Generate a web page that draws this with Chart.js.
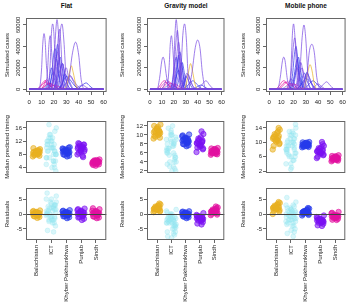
<!DOCTYPE html>
<html>
<head>
<meta charset="utf-8">
<script src="https://cdn.jsdelivr.net/npm/chart.js@4/dist/chart.umd.min.js"></script>
<style>
  html, body { margin: 0; padding: 0; background: #fff; width: 350px; height: 306px; overflow: hidden; }
  body { position: relative; font-family: "Liberation Sans", Arial, sans-serif; }
  canvas { position: absolute; }
  .panel-title { position: absolute; top: 1px; font-size: 6.5px; font-weight: bold; text-align: center; color: #111; line-height: 9px; }
</style>
</head>
<body>
<div class="panel-title" style="left:26px;width:81px">Flat</div>
<div class="panel-title" style="left:147px;width:78px">Gravity model</div>
<div class="panel-title" style="left:266px;width:80px">Mobile phone</div>
<script>
// ============================================
// Data
// ============================================

const provinces = ['Balochistan', 'ICT', 'Khyber Pakhtunkhwa', 'Punjab', 'Sindh']
const weekTicks = [0, 10, 20, 30, 40, 50, 60]
const caseTicks = [0, 20000, 40000, 60000]
const residualTicks = [-5, 0, 5]
const flatTimingTicks = [4, 6, 8, 10, 12, 14, 16]
const gravityTimingTicks = [2, 4, 6, 8, 10, 12]
const mobileTimingTicks = [2, 4, 6, 8, 10, 12, 14]

// epidemic curves: [week, simulated cases] + province index of each district
const flatCurveProv = [3, 3, 3, 3, 3, 3, 3, 0, 2, 2, 3, 2, 3, 2, 3, 4, 4, 4, 2, 3, 1, 4, 2, 3, 2, 2, 3, 2, 4, 4, 3]
const flatCurves = [
  [[0, 0], [8, 0], [10, 18000], [11, 42000], [12, 52000], [13, 44000], [14, 22000], [16, 3000], [18, 0], [60, 0]],
  [[0, 0], [15, 0], [17, 24000], [18, 52000], [19, 61000], [20, 52000], [21, 26000], [23, 2000], [25, 0], [60, 0]],
  [[0, 0], [18, 0], [20, 20000], [21.5, 54000], [22.5, 65000], [23.5, 55000], [25, 20000], [27, 0], [60, 0]],
  [[0, 0], [21, 0], [23, 14000], [25, 52000], [26.5, 61000], [28, 46000], [30, 8000], [32, 0], [60, 0]],
  [[0, 0], [13, 0], [15, 20000], [16, 42000], [17, 50000], [18, 38000], [20, 6000], [22, 0], [60, 0]],
  [[0, 0], [20, 0], [22, 18000], [23.5, 48000], [24.5, 56000], [25.5, 45000], [27, 12000], [29, 0], [60, 0]],
  [[0, 0], [29, 0], [32, 9000], [35, 34000], [37.5, 44000], [40, 32000], [42, 9000], [45, 0], [60, 0]],
  [[0, 0], [28, 0], [31, 6000], [33, 18000], [34, 22000], [35.5, 16000], [38, 3000], [41, 0], [60, 0]],
  [[0, 0], [16, 0], [18, 12000], [20, 34000], [21, 38000], [22.5, 27000], [25, 4000], [27, 0], [60, 0]],
  [[0, 0], [19, 0], [22, 10000], [24, 26000], [25, 30000], [27, 18000], [29, 4000], [32, 0], [60, 0]],
  [[0, 0], [17, 0], [20, 10000], [22, 30000], [23, 35000], [25, 20000], [27, 4000], [30, 0], [60, 0]],
  [[0, 0], [22, 0], [26, 4000], [30, 12000], [33, 9000], [37, 3000], [42, 0], [60, 0]],
  [[0, 0], [25, 0], [29, 5000], [32, 12000], [33, 13000], [36, 8000], [40, 2000], [44, 0], [60, 0]],
  [[0, 0], [38, 0], [42, 3000], [46, 6000], [49, 3000], [53, 0], [60, 0]],
  [[0, 0], [36, 0], [40, 2500], [43, 4000], [46, 2000], [50, 0], [60, 0]],
  [[0, 0], [6, 0], [9, 3000], [12, 7500], [13, 8000], [15, 6000], [18, 2000], [22, 0], [60, 0]],
  [[0, 0], [8, 0], [12, 2500], [16, 6000], [19, 4000], [23, 1000], [27, 0], [60, 0]],
  [[0, 0], [12, 0], [16, 2000], [20, 4000], [24, 2500], [28, 500], [32, 0], [60, 0]],
  [[0, 0], [13, 0], [16, 8000], [18, 20000], [19.5, 14000], [22, 3000], [25, 0], [60, 0]],
  [[0, 0], [21, 0], [24, 8000], [26, 20000], [27, 24000], [29, 12000], [32, 2000], [35, 0], [60, 0]],
  [[0, 0], [8, 0], [12, 1500], [15, 3000], [18, 1500], [24, 0], [60, 0]],
  [[0, 0], [9, 0], [12, 4000], [14, 9000], [16, 6000], [19, 1500], [23, 0], [60, 0]],
  [[0, 0], [24, 0], [27, 6000], [29, 14000], [31, 10000], [34, 2000], [37, 0], [60, 0]],
  [[0, 0], [16, 0], [19, 9000], [21, 24000], [22, 28000], [24, 15000], [26, 3000], [28, 0], [60, 0]],
  [[0, 0], [17, 0], [20, 12000], [22, 36000], [23, 42000], [24.5, 28000], [27, 5000], [29, 0], [60, 0]],
  [[0, 0], [20, 0], [23, 10000], [26, 22000], [27, 24000], [29, 12000], [32, 2000], [34, 0], [60, 0]],
  [[0, 0], [24, 0], [27, 7000], [29, 18000], [30, 20000], [32, 10000], [35, 1500], [37, 0], [60, 0]],
  [[0, 0], [14, 0], [17, 6000], [19, 15000], [20, 16000], [22, 9000], [25, 1000], [27, 0], [60, 0]],
  [[0, 0], [7, 0], [10, 3500], [13, 6500], [15, 5000], [18, 1500], [21, 0], [60, 0]],
  [[0, 0], [10, 0], [13, 3000], [17, 5500], [20, 3000], [24, 500], [27, 0], [60, 0]],
  [[0, 0], [26, 0], [30, 6000], [33, 12000], [35, 9000], [38, 2000], [41, 0], [60, 0]]
]

const gravityCurveProv = [3, 3, 3, 3, 3, 3, 3, 0, 2, 2, 2, 3, 3, 2, 4, 4, 4, 3, 1, 2, 2, 3, 2, 3, 4, 4, 2]
const gravityCurves = [
  [[0, 0], [6, 0], [8, 10000], [10, 27000], [11, 30000], [12, 27000], [14, 11000], [16, 2000], [18, 0], [60, 0]],
  [[0, 0], [14, 0], [16, 20000], [17, 42000], [18, 50000], [19, 40000], [21, 7000], [23, 0], [60, 0]],
  [[0, 0], [18, 0], [20, 22000], [21, 52000], [22, 65000], [23, 54000], [25, 12000], [27, 0], [60, 0]],
  [[0, 0], [24, 0], [26, 18000], [27.5, 50000], [29, 61000], [30.5, 47000], [32, 12000], [34, 0], [60, 0]],
  [[0, 0], [19, 0], [21, 12000], [23, 38000], [24, 44000], [25, 36000], [27, 7000], [29, 0], [60, 0]],
  [[0, 0], [18, 0], [20, 14000], [22, 47000], [23, 55000], [24, 44000], [26, 9000], [28, 0], [60, 0]],
  [[0, 0], [32, 0], [35, 14000], [38, 39000], [40, 46000], [42, 38000], [44, 15000], [47, 0], [60, 0]],
  [[0, 0], [29, 0], [31, 8000], [33, 20000], [34, 24000], [35.5, 18000], [38, 4000], [41, 0], [60, 0]],
  [[0, 0], [20, 0], [22, 10000], [24, 30000], [25, 35000], [26.5, 26000], [29, 4000], [31, 0], [60, 0]],
  [[0, 0], [21, 0], [24, 8000], [26, 21000], [27, 25000], [29, 14000], [31, 3000], [34, 0], [60, 0]],
  [[0, 0], [17, 0], [19, 9000], [21, 25000], [22, 30000], [23.5, 20000], [26, 3000], [28, 0], [60, 0]],
  [[0, 0], [24, 0], [28, 6000], [31, 15000], [33, 11000], [36, 3000], [40, 0], [60, 0]],
  [[0, 0], [39, 0], [43, 3500], [46, 7500], [47, 8000], [50, 4000], [54, 0], [60, 0]],
  [[0, 0], [35, 0], [39, 2000], [43, 4000], [46, 2000], [50, 0], [60, 0]],
  [[0, 0], [5, 0], [8, 3000], [11, 7500], [12, 8000], [14, 6500], [17, 2000], [21, 0], [60, 0]],
  [[0, 0], [9, 0], [12, 3000], [16, 7000], [19, 4000], [23, 1000], [27, 0], [60, 0]],
  [[0, 0], [12, 0], [16, 2000], [20, 5000], [24, 3000], [28, 500], [32, 0], [60, 0]],
  [[0, 0], [9, 0], [12, 4000], [14, 9000], [16, 6000], [19, 1500], [23, 0], [60, 0]],
  [[0, 0], [8, 0], [12, 1500], [15, 3000], [18, 1500], [24, 0], [60, 0]],
  [[0, 0], [25, 0], [28, 5000], [30, 12000], [32, 9000], [35, 2000], [38, 0], [60, 0]],
  [[0, 0], [19, 0], [21, 8000], [23, 26000], [24, 32000], [25.5, 22000], [28, 3000], [30, 0], [60, 0]],
  [[0, 0], [20, 0], [23, 9000], [25, 22000], [26, 25000], [28, 12000], [30, 2000], [32, 0], [60, 0]],
  [[0, 0], [18, 0], [21, 7000], [23, 16000], [24, 18000], [26, 9000], [29, 1000], [31, 0], [60, 0]],
  [[0, 0], [26, 0], [29, 6000], [31, 13000], [32, 14000], [34, 8000], [37, 1000], [39, 0], [60, 0]],
  [[0, 0], [7, 0], [10, 3500], [13, 6500], [15, 5000], [18, 1500], [21, 0], [60, 0]],
  [[0, 0], [10, 0], [14, 3000], [18, 5500], [21, 3000], [25, 500], [28, 0], [60, 0]],
  [[0, 0], [28, 0], [32, 4000], [36, 8000], [39, 5000], [43, 1000], [46, 0], [60, 0]]
]

const mobileCurveProv = [3, 3, 3, 3, 3, 0, 2, 2, 3, 3, 2, 3, 4, 4, 4, 3, 1, 3, 2, 2, 3, 2, 3, 4, 4, 2]
const mobileCurves = [
  [[0, 0], [7, 0], [9, 10000], [11, 27000], [12, 30000], [13, 27000], [15, 9000], [17, 1000], [19, 0], [60, 0]],
  [[0, 0], [16, 0], [18, 22000], [19, 50000], [20, 61000], [21, 51000], [23, 9000], [25, 0], [60, 0]],
  [[0, 0], [23, 0], [25, 14000], [27, 48000], [28.5, 60000], [30, 47000], [32, 9000], [34, 0], [60, 0]],
  [[0, 0], [16, 0], [18, 14000], [20, 42000], [21, 48000], [22, 40000], [24, 9000], [26, 0], [60, 0]],
  [[0, 0], [28, 0], [31, 14000], [33, 36000], [35, 42000], [37, 34000], [39, 11000], [42, 0], [60, 0]],
  [[0, 0], [28, 0], [30, 7000], [32, 18000], [33.5, 23000], [35, 18000], [37, 5000], [40, 0], [60, 0]],
  [[0, 0], [17, 0], [19, 12000], [21, 35000], [22, 40000], [23, 33000], [25, 7000], [27, 0], [60, 0]],
  [[0, 0], [19, 0], [21, 9000], [23, 25000], [24, 30000], [25.5, 20000], [28, 3000], [30, 0], [60, 0]],
  [[0, 0], [20, 0], [23, 8000], [25, 21000], [26, 25000], [28, 13000], [30, 2000], [33, 0], [60, 0]],
  [[0, 0], [24, 0], [28, 6000], [31, 15000], [33, 11000], [36, 3000], [40, 0], [60, 0]],
  [[0, 0], [22, 0], [26, 4000], [30, 10000], [33, 8000], [37, 2000], [41, 0], [60, 0]],
  [[0, 0], [39, 0], [43, 3000], [46, 6500], [47, 7000], [50, 3500], [54, 0], [60, 0]],
  [[0, 0], [5, 0], [8, 3000], [11, 7500], [12, 8000], [14, 6500], [17, 2000], [21, 0], [60, 0]],
  [[0, 0], [8, 0], [11, 3000], [15, 7000], [18, 4000], [22, 1000], [26, 0], [60, 0]],
  [[0, 0], [12, 0], [16, 2000], [20, 5000], [24, 3000], [28, 500], [32, 0], [60, 0]],
  [[0, 0], [14, 0], [16, 5000], [18, 10000], [20, 6000], [23, 1000], [25, 0], [60, 0]],
  [[0, 0], [8, 0], [12, 1500], [16, 3000], [19, 1500], [25, 0], [60, 0]],
  [[0, 0], [33, 0], [37, 2500], [40, 5000], [43, 2500], [47, 0], [60, 0]],
  [[0, 0], [26, 0], [29, 8000], [31, 16000], [33, 10000], [36, 2000], [38, 0], [60, 0]],
  [[0, 0], [18, 0], [20, 9000], [22, 24000], [23, 28000], [24.5, 18000], [27, 3000], [29, 0], [60, 0]],
  [[0, 0], [21, 0], [24, 8000], [26, 18000], [27, 20000], [29, 10000], [31, 2000], [33, 0], [60, 0]],
  [[0, 0], [23, 0], [26, 6000], [28, 14000], [29, 15000], [31, 8000], [34, 1000], [36, 0], [60, 0]],
  [[0, 0], [17, 0], [20, 7000], [22, 18000], [23, 20000], [25, 10000], [28, 1500], [30, 0], [60, 0]],
  [[0, 0], [7, 0], [10, 3500], [13, 6500], [15, 5000], [18, 1500], [21, 0], [60, 0]],
  [[0, 0], [10, 0], [14, 3000], [18, 5500], [21, 3000], [25, 500], [28, 0], [60, 0]],
  [[0, 0], [28, 0], [32, 4000], [36, 8000], [39, 5000], [43, 1000], [46, 0], [60, 0]]
]

// horizontal jitter of the strip charts (group units)
const jitter = [-0.22, 0.1, -0.04, 0.2, -0.15, 0.03, 0.24, -0.18, 0.14, -0.08, 0.06, -0.24, 0.17, -0.01, 0.11, -0.2, 0.22, -0.11, 0.01, 0.16]

// median predicted timing, one list per province
const flatTiming = [
  [8.5, 8.1, 9.0, 7.6, 8.8, 8.3, 9.6, 7.9, 8.6, 8.2, 9.2, 7.4, 8.9, 8.4, 8.0, 9.9, 8.7, 7.8, 8.5, 9.3],
  [10, 6, 14, 8, 12, 4, 16, 9, 11, 7, 13, 5, 15, 10, 8, 12, 3, 17, 11, 9, 7, 10, 13, 6, 9, 12, 8, 11, 5, 14, 10, 7, 9, 12, 6, 11, 8, 13, 10, 4],
  [8.8, 8.3, 9.5, 7.6, 9.1, 8.6, 10.2, 8.0, 9.3, 8.9, 7.4, 9.8, 8.5, 9.0, 8.2, 9.6, 8.7, 7.9, 9.2, 10.0],
  [9.8, 10.4, 9.2, 11.0, 8.5, 10.1, 9.5, 11.4, 7.2, 10.6, 9.9, 8.0, 10.9, 9.4, 7.6, 10.3, 9.0, 11.2, 8.8, 10.0],
  [5.7, 5.3, 6.1, 5.0, 5.9, 5.5, 6.5, 4.8, 5.8, 5.6, 6.3, 5.2, 5.9, 4.6, 6.0, 5.4, 5.7, 6.2, 5.1, 5.8]
]
const gravityTiming = [
  [10.6, 10.1, 11.3, 9.4, 10.9, 10.3, 12.3, 9.8, 11.0, 10.5, 11.8, 9.2, 10.7, 11.5, 10.0, 12.0, 10.4, 9.6, 11.2, 10.8],
  [7, 3, 10, 5, 11.5, 2, 9, 6, 8, 4, 12, 6.5, 2.5, 10.5, 7.5, 3.5, 9.5, 5.5, 8.5, 4.5, 6, 8, 9, 5, 7, 10, 4, 6.5, 8.5, 3, 7.5, 9, 5.5, 11, 6, 8, 2, 7, 10, 4],
  [8.7, 8.3, 9.4, 7.7, 9.0, 8.5, 10.1, 8.0, 9.2, 8.8, 7.5, 9.7, 8.4, 9.1, 8.1, 9.9, 8.6, 7.9, 9.3, 8.9],
  [8.2, 7.6, 9.0, 6.8, 8.6, 7.9, 10.2, 7.2, 8.4, 8.0, 9.5, 6.2, 8.8, 7.4, 10.8, 8.1, 7.0, 9.2, 7.7, 8.5],
  [6.3, 6.0, 6.7, 5.7, 6.5, 6.2, 7.1, 5.9, 6.4, 6.1, 6.9, 5.6, 6.6, 6.3, 5.8, 7.0, 6.2, 6.0, 6.8, 6.4]
]
const mobileTiming = [
  [11.0, 10.4, 12.0, 9.5, 11.5, 10.8, 13.5, 9.0, 11.2, 10.6, 12.6, 8.0, 11.8, 10.2, 13.0, 11.4, 9.8, 12.3, 10.9, 14.0],
  [9, 5, 12, 7, 10.5, 3, 14, 8, 11, 6, 13, 4, 9.5, 2.5, 12.5, 7.5, 15, 6.5, 10, 8.5, 8, 10, 11, 6, 9, 12, 7, 10, 5, 13, 9, 8, 11, 4, 10, 7, 12, 9, 6, 8],
  [9.3, 9.0, 9.7, 8.7, 9.5, 9.2, 10.1, 8.9, 9.4, 9.1, 9.9, 8.6, 9.6, 9.3, 9.0, 10.0, 9.2, 8.8, 9.8, 9.4],
  [7.5, 7.0, 8.2, 6.4, 7.8, 7.2, 9.0, 6.0, 7.6, 7.3, 8.6, 5.6, 7.9, 6.8, 10.1, 7.4, 6.6, 8.4, 7.1, 9.5],
  [5.5, 5.2, 5.9, 4.9, 5.7, 5.4, 6.4, 5.0, 5.6, 5.3, 6.1, 4.7, 5.8, 5.5, 5.1, 6.2, 5.4, 5.2, 6.0, 5.6]
]

// residuals, one list per province
const flatResiduals = [
  [0, -0.4, 0.6, -1.0, 0.3, -0.2, 1.2, -0.7, 0.4, 0.1, -1.3, 0.8, -0.1, 0.5, -0.5, 1.0, 0.2, -0.8, 0.7, -0.3],
  [1, -2, 4, -4, 2.5, -1, 6, -5.5, 3, 0, -3, 5, -1.5, 2, -6, 7, 0.5, -2.5, 3.5, 1.5, 0, 2, -1, 3, 1, -2, 4, 0.5, -3, 2, 1, -0.5, 3, -1.5, 2.5, 0, 1.5, -2, 5, -1],
  [0, -0.5, 0.5, -1.1, 0.3, -0.2, 1.3, -0.8, 0.4, 0.1, -1.4, 0.9, -0.1, 0.6, -0.4, 1.1, 0.2, -0.7, 0.7, -0.3],
  [0, -0.6, 0.8, -1.6, 0.4, -0.3, 1.8, -1.2, 0.6, 0.1, -2.0, 1.3, -0.2, 0.9, -0.8, 1.6, 0.3, -1.0, 1.1, -0.4],
  [0.1, -0.4, 0.7, -1.2, 0.4, -0.1, 1.6, -0.8, 0.5, 0.2, -1.4, 1.1, 0.0, 0.8, -0.5, 1.9, 0.3, -0.9, 1.0, -0.2]
]
const gravityResiduals = [
  [1.7, 1.3, 2.3, 0.8, 2.0, 1.5, 3.2, 1.0, 1.9, 1.6, 2.7, 0.6, 2.1, 1.4, 2.9, 1.8, 1.1, 2.5, 1.7, 3.5],
  [-2, -4, 0, -6, -1, -3, 1.5, -7.5, -2.5, -0.5, -5, 1, -3.5, -1.5, -6.5, 0.5, -4.5, -2, -8, -1, -3, -2, -1, -4, -2.5, 0, -3.5, -1.5, -5, -2, -1, -3, -4, -0.5, -2, -6, -1.5, -3, -2.5, -7],
  [-0.2, -0.6, 0.4, -1.1, 0.1, -0.4, 0.9, -0.8, 0.2, -0.1, -1.4, 0.6, -0.3, 0.3, -0.7, 0.8, 0.0, -0.9, 0.5, -0.5],
  [-1.5, -2.0, -0.8, -2.7, -1.2, -1.7, 0.3, -3.2, -1.0, -1.4, -2.4, -0.3, -1.9, -1.1, -3.5, -0.6, -1.6, -2.2, -0.9, -1.3],
  [0.8, 0.4, 1.3, -0.2, 1.0, 0.6, 2.2, 0.1, 1.1, 0.7, 1.7, -0.4, 1.2, 0.5, 2.5, 0.9, 0.3, 1.5, 0.8, 1.9]
]
const mobileResiduals = [
  [2.0, 1.5, 2.6, 0.8, 2.3, 1.8, 3.7, 1.1, 2.2, 1.9, 3.1, 0.0, 2.4, 1.6, 3.4, 2.1, 1.3, 2.8, 1.9, 4.0],
  [0, -3, 2, -5, 1, -2, 4, -6.5, -1, 0.5, -4, 3, -1.5, 1.5, -7.5, 5.5, -2.5, -0.5, -5.5, 2.5, -1, 0, -2, 1, -3, 0.5, -1.5, 2, -4, -0.5, 1, -2.5, 0, -1, 3, -3.5, 0.5, -2, 1.5, -6],
  [0.5, 0.2, 0.9, -0.3, 0.7, 0.4, 1.8, 0.0, 0.6, 0.3, 1.3, -0.5, 0.8, 0.5, 1.5, 0.6, 0.1, 1.0, 0.4, 2.0],
  [-2.2, -2.7, -1.6, -3.3, -1.9, -2.4, -0.5, -3.8, -2.0, -2.3, -3.0, -1.0, -2.5, -1.8, -4.0, -1.3, -2.6, -2.9, -1.7, -2.1],
  [-0.8, -1.1, -0.3, -1.6, -0.6, -0.9, 0.7, -1.9, -0.7, -1.0, -1.4, 0.2, -0.5, -1.2, -2.0, 0.4, -0.8, -1.3, -0.4, -0.6]
]

// ============================================
// Styles and layout
// ============================================

const provinceRgb = ['232,176,32', '150,228,240', '38,58,235', '122,16,242', '226,16,160']
const curveRgb = ['232,176,32', '150,228,240', '45,45,235', '118,70,226', '226,16,160']
const FONT = '"Liberation Sans", Arial, sans-serif'
const TEXT = '#222'
const FRAME = '#666'
const PAD_T = 10
const PAD_R = 4
const ICT_SPREAD = 1.4

const columns = [
  { left: 1, axisW: 25, boxW: 81 },
  { left: 116, axisW: 31, boxW: 78 },
  { left: 237, axisW: 29, boxW: 80 }
]
const rows = [
  { top: 8, boxH: 74, xAxisH: 16, padB: 0 },
  { top: 111, boxH: 52, xAxisH: 0, padB: 10 },
  { top: 178, boxH: 52, xAxisH: 66, padB: 0 }
]

// R style frame round the plot region, plus the zero line of the residual panels
const framePlugin = {
  id: 'frame',
  afterDatasetsDraw(chart, args, opts) {
    const { ctx, chartArea: a } = chart
    ctx.save()
    if (opts.zeroLine) {
      const y = Math.round(chart.scales.y.getPixelForValue(0)) + 0.5
      ctx.strokeStyle = '#444'
      ctx.lineWidth = 1
      ctx.beginPath()
      ctx.moveTo(a.left, y)
      ctx.lineTo(a.right, y)
      ctx.stroke()
    }
    ctx.strokeStyle = FRAME
    ctx.lineWidth = 1
    ctx.strokeRect(a.left + 0.5, a.top + 0.5, a.right - a.left - 1, a.bottom - a.top - 1)
    ctx.restore()
  }
}

// ============================================
// Builders
// ============================================

function makeCanvas(col, row) {
  const c = document.createElement('canvas')
  c.width = col.axisW + col.boxW + PAD_R
  c.height = PAD_T + row.boxH + row.xAxisH + row.padB
  c.style.left = col.left + 'px'
  c.style.top = row.top + 'px'
  document.body.appendChild(c)
  return c
}

function yAxis(col, title, ticks, min, max, rotated) {
  return {
    type: 'linear',
    min: min,
    max: max,
    afterBuildTicks: s => { s.ticks = ticks.map(v => ({ value: v })) },
    afterFit: s => { s.width = col.axisW },
    border: { display: false },
    grid: { drawOnChartArea: false, tickLength: 3, color: FRAME },
    ticks: {
      font: { family: FONT, size: 6 },
      color: TEXT,
      padding: rotated ? -4 : 1,
      minRotation: rotated ? 90 : 0,
      maxRotation: rotated ? 90 : 0,
      crossAlign: rotated ? 'center' : 'near',
      callback: v => String(v)
    },
    title: {
      display: true,
      text: title,
      color: TEXT,
      font: { family: FONT, size: 6 },
      padding: { top: 2.4, bottom: 0 }
    }
  }
}

function baseOptions(row, scales, zeroLine) {
  return {
    responsive: false,
    animation: false,
    layout: { padding: { top: PAD_T, right: PAD_R, left: 0, bottom: row.padB } },
    plugins: { legend: { display: false }, tooltip: { enabled: false }, frame: { zeroLine: zeroLine } },
    scales: scales
  }
}

function curvePanel(col, curves, provs) {
  const row = rows[0]
  const datasets = curves.map((pts, i) => ({
    data: pts.map(p => ({ x: p[0], y: p[1] })),
    borderColor: `rgba(${curveRgb[provs[i]]},0.78)`,
    borderWidth: 0.9,
    pointRadius: 0,
    cubicInterpolationMode: 'monotone'
  }))
  new Chart(makeCanvas(col, row), {
    type: 'line',
    data: { datasets: datasets },
    options: baseOptions(row, {
      x: {
        type: 'linear',
        min: -2.5,
        max: 62.5,
        afterBuildTicks: s => { s.ticks = weekTicks.map(v => ({ value: v })) },
        afterFit: s => { s.height = row.xAxisH },
        border: { display: false },
        grid: { drawOnChartArea: false, tickLength: 3, color: FRAME },
        ticks: { font: { family: FONT, size: 6 }, color: TEXT, padding: 4, maxRotation: 0 }
      },
      y: yAxis(col, 'Simulated cases', caseTicks, -2500, 66500, true)
    }, false),
    plugins: [framePlugin]
  })
}

function stripPanel(col, row, groups, title, ticks, min, max, withLabels) {
  const datasets = groups.map((vals, g) => ({
    data: vals.map((v, i) => ({ x: g + 1 + jitter[i % jitter.length] * (g === 1 ? ICT_SPREAD : 1), y: v })),
    pointRadius: g === 1 ? 2.4 : 2.7,
    pointBackgroundColor: `rgba(${provinceRgb[g]},${g === 1 ? 0.35 : 0.55})`,
    pointBorderColor: `rgba(${provinceRgb[g]},${g === 1 ? 0.45 : 0.9})`,
    pointBorderWidth: 0.7
  }))
  const x = {
    type: 'linear',
    min: 0.3,
    max: 5.7,
    display: withLabels,
    afterBuildTicks: s => { s.ticks = provinces.map((p, i) => ({ value: i + 1 })) },
    afterFit: s => { s.height = row.xAxisH },
    border: { display: false },
    grid: { drawOnChartArea: false, tickLength: 3, color: FRAME },
    ticks: {
      autoSkip: false,
      font: { family: FONT, size: 6 },
      color: TEXT,
      padding: 2,
      minRotation: 90,
      maxRotation: 90,
      callback: v => provinces[v - 1]
    }
  }
  new Chart(makeCanvas(col, row), {
    type: 'scatter',
    data: { datasets: datasets },
    options: baseOptions(row, { x: x, y: yAxis(col, title, ticks, min, max, false) }, withLabels),
    plugins: [framePlugin]
  })
}

// ============================================
// Draw the nine panels
// ============================================

curvePanel(columns[0], flatCurves, flatCurveProv)
curvePanel(columns[1], gravityCurves, gravityCurveProv)
curvePanel(columns[2], mobileCurves, mobileCurveProv)

stripPanel(columns[0], rows[1], flatTiming, 'Median predicted timing', flatTimingTicks, 2.4, 18.1, false)
stripPanel(columns[1], rows[1], gravityTiming, 'Median predicted timing', gravityTimingTicks, 1.55, 13.1, false)
stripPanel(columns[2], rows[1], mobileTiming, 'Median predicted timing', mobileTimingTicks, 1.45, 15.95, false)

stripPanel(columns[0], rows[2], flatResiduals, 'Residuals', residualTicks, -8.7, 8.7, true)
stripPanel(columns[1], rows[2], gravityResiduals, 'Residuals', residualTicks, -8.7, 8.7, true)
stripPanel(columns[2], rows[2], mobileResiduals, 'Residuals', residualTicks, -8.7, 8.7, true)
</script>
</body>
</html>
